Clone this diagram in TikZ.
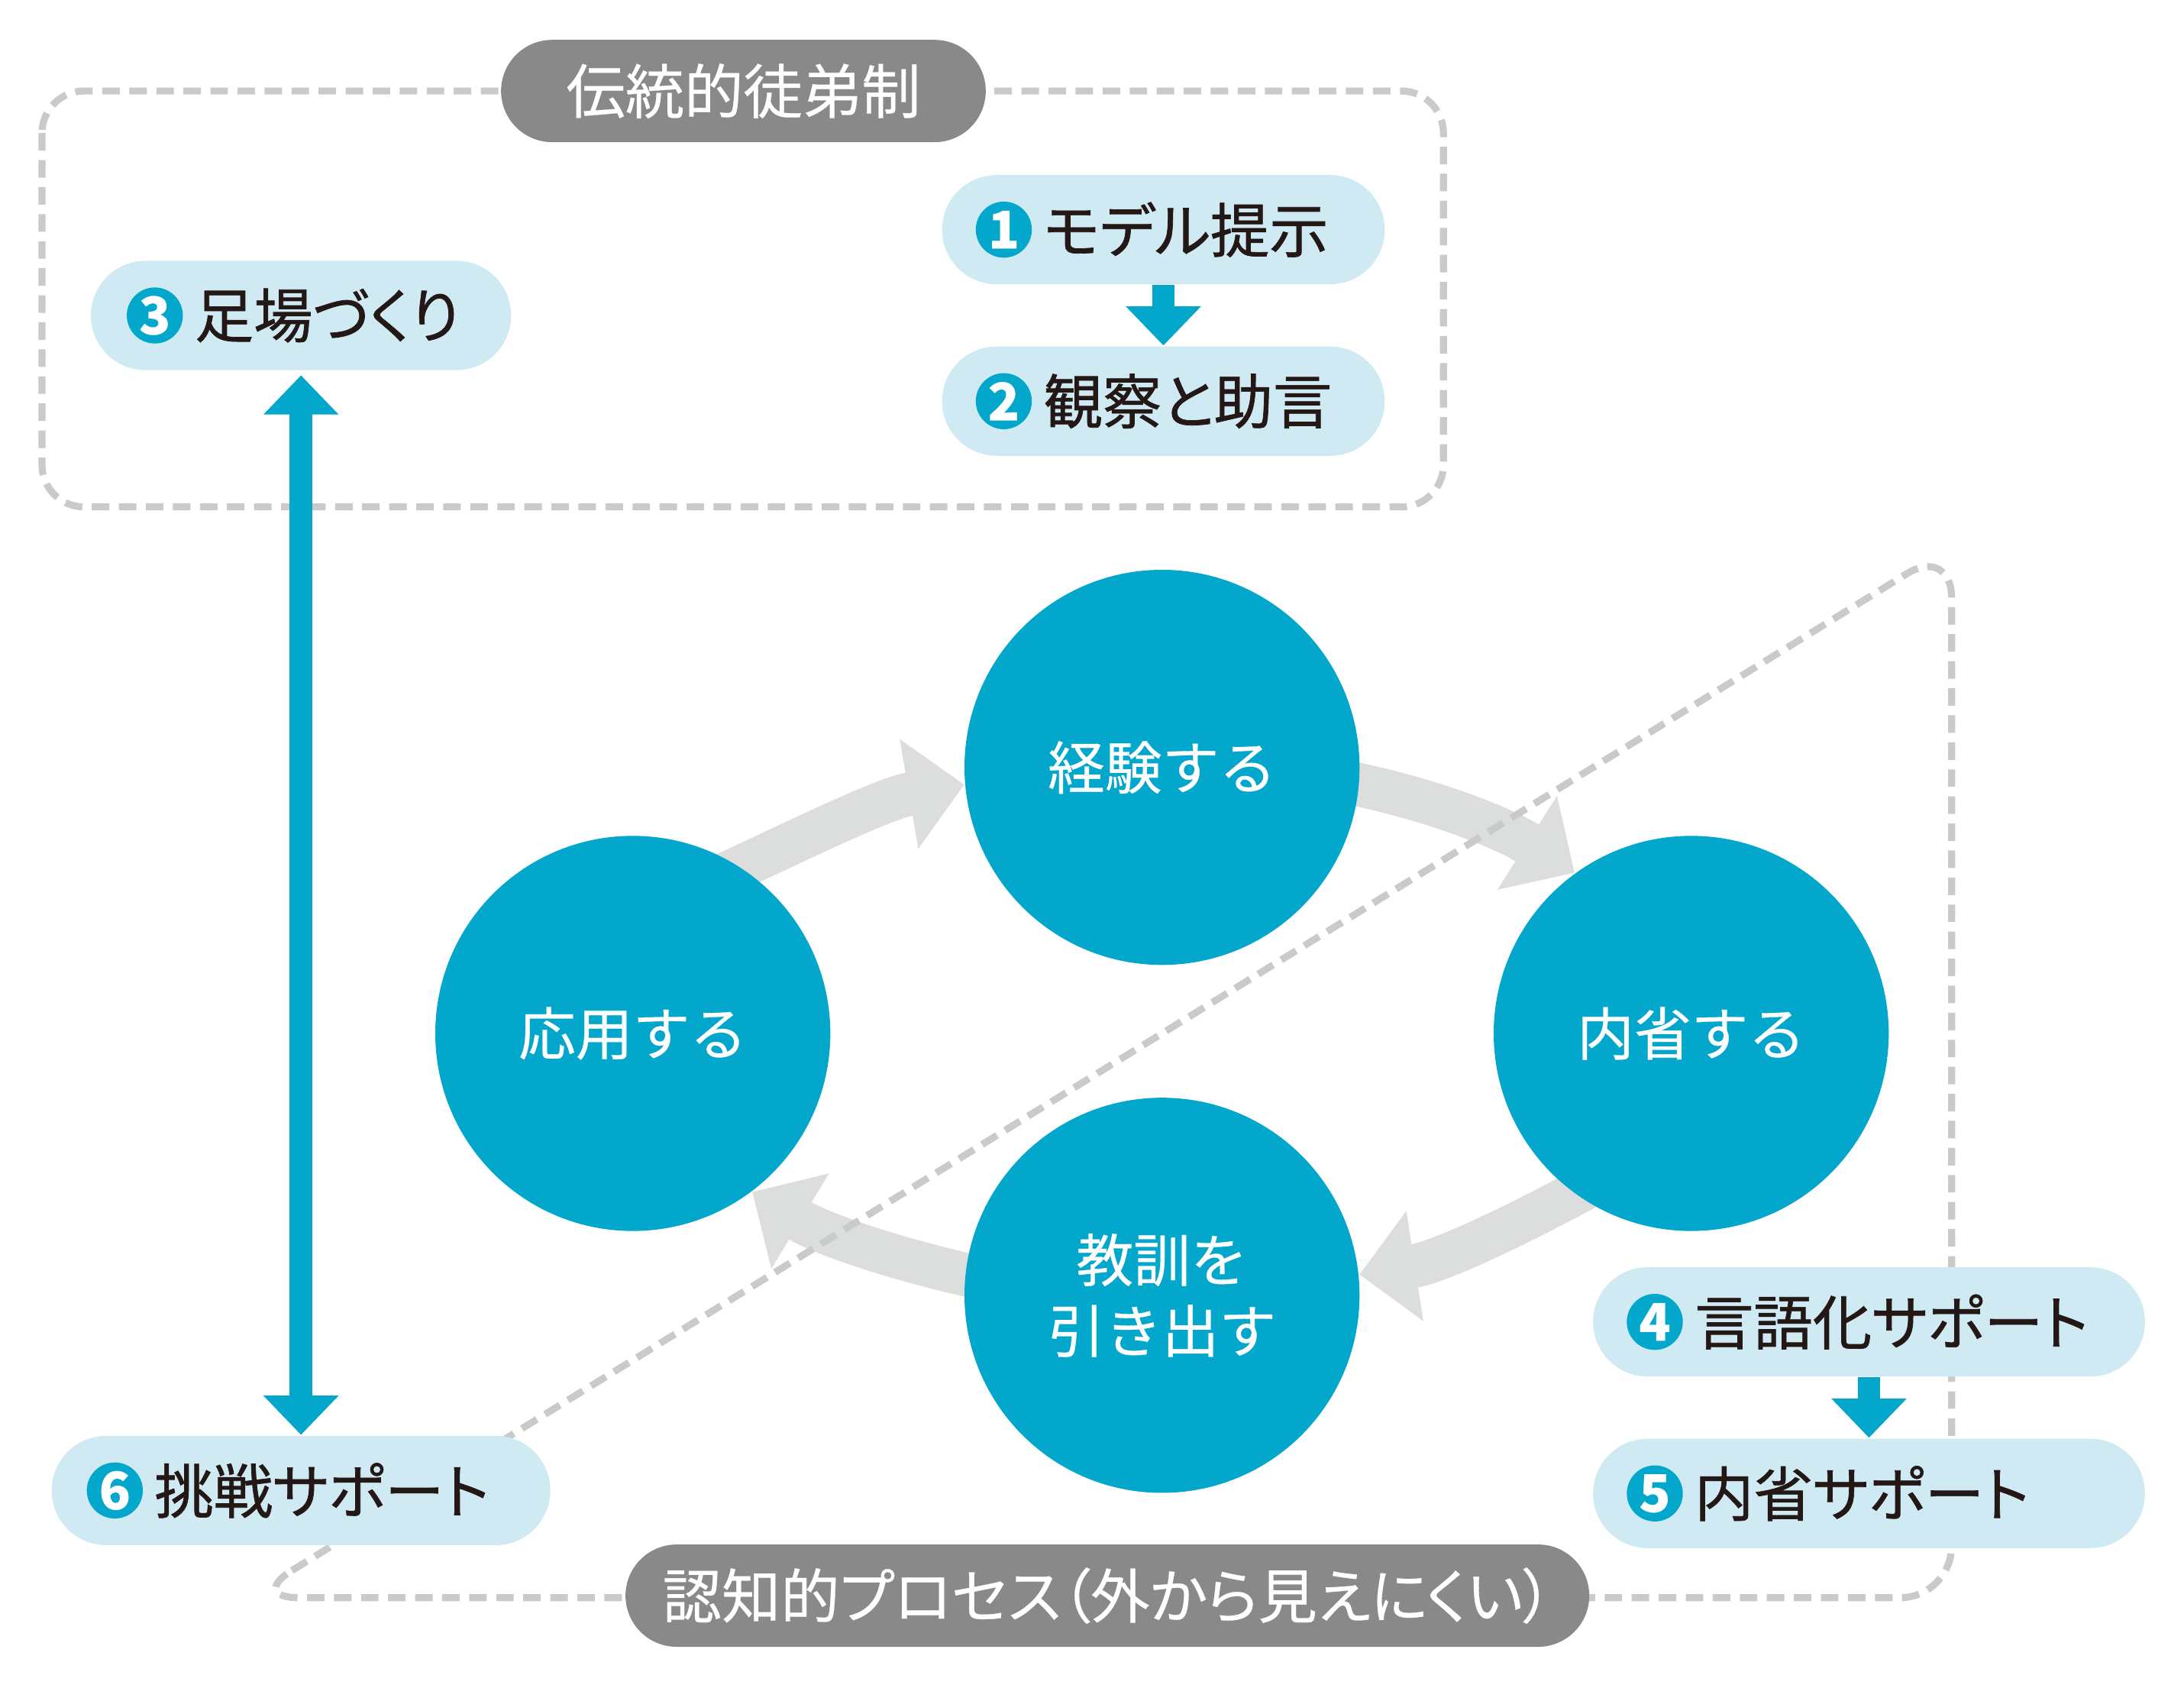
\documentclass[tikz,border=0pt]{standalone}
\usepackage{fontspec}
\usepackage{tikz}
\usetikzlibrary{arrows.meta,positioning,backgrounds}

\newfontfamily\jpfont[FakeBold=0.4]{Noto Sans CJK JP}
\newfontfamily\jppfont[RawFeature=+palt, FakeBold=0.4]{Noto Sans CJK JP}
\newfontfamily\jpbfont[RawFeature=+palt, FakeBold=0.9]{Noto Sans CJK JP}

\definecolor{cyclecyan}{RGB}{3,167,203}
\definecolor{pillblue}{RGB}{207,234,243}
\definecolor{labelgray}{RGB}{137,137,137}
\definecolor{dashgray}{RGB}{201,202,202}
\definecolor{flowgray}{RGB}{220,221,221}
\definecolor{inkblack}{RGB}{35,24,21}

\begin{document}
\begin{tikzpicture}[x=0.01cm, y=-0.01cm,
    stage/.style={circle, fill=cyclecyan, minimum size=2.82cm, inner sep=0pt, text=white, align=center, font=\jpfont\fontsize{11.6}{14.4}\selectfont},
    pill/.style={rectangle, rounded corners=0.39cm, fill=pillblue, minimum height=0.78cm, inner sep=0pt},
    badge/.style={circle, fill=cyclecyan, minimum size=0.4cm, inner sep=0pt, text=white, font=\jpfont\bfseries\fontsize{10.5}{10.5}\selectfont},
    pilltext/.style={inner sep=0pt, text=inkblack, font=\jpbfont\fontsize{12}{12}\selectfont},
    header/.style={rectangle, rounded corners=0.365cm, fill=labelgray, minimum height=0.73cm, inner sep=0pt, text=white, font=\jppfont\fontsize{12}{12}\selectfont},
    flow/.style={draw=flowgray, line width=0.31cm, shorten <=-0.15cm, -{Triangle[length=0.4cm, width=0.77cm]}},
    blueflow/.style={draw=cyclecyan, line width=0.16cm, -{Triangle[length=0.28cm, width=0.52cm]}},
    boundary/.style={draw=dashgray, line width=0.05cm, dash pattern=on 0.125cm off 0.068cm}
  ]
    \useasboundingbox (0,0) rectangle (1560,1214.2);

    % The experiential learning cycle
    \node[stage] (kei) at (830,548) {経験する};
    \node[stage] (nai) at (1208,738) {内省する};
    \node[stage] (kyo) at (830,925) {教訓を\\引き出す};
    \node[stage] (oyo) at (452,738) {応用する};

    % Traditional apprenticeship
    \node[header, minimum width=3.46cm] (trad) at (531,65) {伝統的徒弟制};
    \node[pill, minimum width=3.16cm] (model) at (831,164) {};
    \node[badge] (n1) at (717,164) {1};
    \node[pilltext, right=0.07cm of n1] (t1) {モデル提示};
    \node[pill, minimum width=3.16cm] (advice) at (831,286.5) {};
    \node[badge] (n2) at (717,286.5) {2};
    \node[pilltext, right=0.07cm of n2] (t2) {観察と助言};
    \node[pill, minimum width=3.0cm] (scaffold) at (215,225.3) {};
    \node[badge] (n3) at (110.6,225.3) {3};
    \node[pilltext, right=0.07cm of n3] (t3) {足場づくり};

    % Cognitive process
    \node[header, minimum width=6.88cm] (cogn) at (791,1139.5) {認知的プロセス（外から見えにくい）};
    \node[pill, minimum width=3.94cm] (verbal) at (1335,944) {};
    \node[badge] (n4) at (1182,944) {4};
    \node[pilltext, right=0.07cm of n4] (t4) {言語化サポート};
    \node[pill, minimum width=3.94cm] (reflect) at (1335,1066.5) {};
    \node[badge] (n5) at (1182,1066.5) {5};
    \node[pilltext, right=0.07cm of n5] (t5) {内省サポート};
    \node[pill, minimum width=3.56cm] (challenge) at (215,1064.4) {};
    \node[badge] (n6) at (82,1064.4) {6};
    \node[pilltext, right=0.07cm of n6] (t6) {挑戦サポート};

    % Step arrows
    \draw[blueflow] (model) -- (advice);
    \draw[blueflow] (verbal) -- (reflect);
    \draw[blueflow, {Triangle[length=0.28cm, width=0.52cm]}-{Triangle[length=0.28cm, width=0.52cm]}, shorten <=0.03cm] (scaffold) -- (challenge);

    \begin{pgfonlayer}{background}
        % Cycle arrows
        \draw[flow] (kei.-5) .. controls +(55,10.6) and +(-47.4,-30.1) .. (nai.126);
        \draw[flow] (nai.234.8) .. controls +(-49.3,26.7) and +(55.3,-8.5) .. (kyo.6.2);
        \draw[flow] (kyo.174.7) .. controls +(-54.7,-12) and +(47.9,29) .. (oyo.-53.5);
        \draw[flow] (oyo.57) .. controls +(51.6,-24.1) and +(-56.3,9.5) .. (kei.185.5);

        % Dashed frames
        \draw[boundary, rounded corners=0.3cm] (30,65) rectangle (1031,362);
        \draw[boundary, rounded corners=0.37cm] (177,1141) -- (1394,390) -- (1394,1141) -- cycle;
    \end{pgfonlayer}
\end{tikzpicture}
\end{document}
